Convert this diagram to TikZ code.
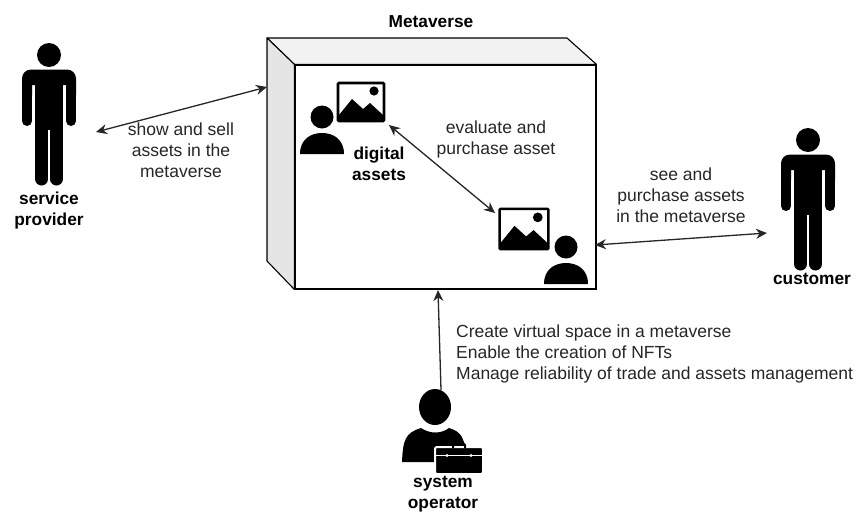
\documentclass[tikz,border=0pt]{standalone}
\usepackage{fontspec}
\setmainfont{Liberation Sans}
\usetikzlibrary{arrows.meta}
\tikzset{
plain/.style={align=center, inner sep=0pt, text=black!85, font=\fontsize{17.5}{21}\selectfont},
heavy/.style={align=center, inner sep=0pt, font=\fontsize{17.3}{21}\selectfont\bfseries},
link/.style={draw=black!85, line width=1.3pt, {Stealth[length=11pt,width=10pt]}-{Stealth[length=11pt,width=10pt]}},
stander/.pic={
\fill (0,0) circle (12pt);
\fill (-27,40) [rounded corners=9pt] -- (-27,14.5) -- (27,14.5) [sharp corners] -- (27,40) -- (17,40) -- (17,30) -- (-17,30) -- (-17,40) -- cycle;
\fill (-14,14.5) rectangle (14,75);
\draw [line width=10pt, line cap=round] (-22,35) -- (-22,66);
\draw [line width=10pt, line cap=round] (22,35) -- (22,66);
\draw [line width=13pt, line cap=round] (-7.4,60) -- (-7.4,124);
\draw [line width=13pt, line cap=round] (7.4,60) -- (7.4,124);
},
bust/.pic={
\fill (0,0) circle (11.5pt);
\fill (-22,37) .. controls (-22,22) and (-11,16) .. (0,16) .. controls (11,16) and (22,22) .. (22,37) -- cycle;
},
picture/.pic={
\draw [line width=2.6pt, rounded corners=1pt] (-23,-19) rectangle (23,19);
\fill (-22,13) -- (-9,-3) -- (2,7) -- (9,1) -- (22,13) -- (22,18) -- (-22,18) -- cycle;
\fill (13,-11) circle (4.6pt);
},
}
\begin{document}
\begin{tikzpicture}[x=1pt, y=-1pt]
\useasboundingbox (0,0) rectangle (858,512);
\fill [white] (0,0) rectangle (858,512);
\coordinate (backnw) at (267,38);
\coordinate (backne) at (567,38);
\coordinate (backsw) at (267,261);
\node (front) at (445.5,177) [draw, line width=1.1pt, fill=white, minimum width=301pt, minimum height=224pt, inner sep=0pt] {};
\draw [line width=1.1pt, fill=black!5, line join=round] (backnw) -- (backne) -- (front.north east) -- (front.north west) -- cycle;
\draw [line width=1.1pt, fill=black!10, line join=round] (backnw) -- (front.north west) -- (front.south west) -- (backsw) -- cycle;
\node (title) at (431,22) [heavy] {Metaverse};
\pic at (49,55) {stander};
\pic at (808,140) {stander};
\pic at (322,117) {bust};
\pic at (566,247) {bust};
\pic at (361,102) {picture};
\pic [scale=1.06] at (524,229) {picture};
% operator with toolcase
\fill (435,407) ellipse (16pt and 18pt);
\fill (402,462) .. controls (403,440) and (405,433) .. (421,428) .. controls (430,434) and (441,434) .. (449,428) .. controls (462,432) and (465,438) .. (467,462) -- cycle;
\fill [rounded corners=2pt, draw=white, line width=2pt] (435,447) rectangle (483,474);
\draw [line width=2pt, rounded corners=1pt] (453,448) -- (453,444) -- (465,444) -- (465,448);
\draw [white, line width=1.2pt] (436,455.5) -- (482,455.5);
\fill [white] (447,455.5) circle (1.6pt) (471,455.5) circle (1.6pt);
\coordinate (providerport) at (96,132);
\coordinate (sideport) at (267,87);
\coordinate (sellerport) at (389,125);
\coordinate (buyerport) at (495,213);
\coordinate (frontport) at (595,245);
\coordinate (customerport) at (767,233);
\coordinate (bottomport) at (438,290);
\coordinate (operatorport) at (441,390);
\draw [link] (providerport) -- (sideport);
\draw [link] (sellerport) -- (buyerport);
\draw [link] (frontport) -- (customerport);
\draw [link, -{Stealth[length=11pt,width=10pt]}] (operatorport) -- (bottomport);
\node (selllabel) at (181,150.5) [plain] {show and sell \\ assets in the \\ metaverse};
\node (providerlabel) at (49,211) [heavy] {service \\ provider};
\node (assetlabel) at (379,163.5) [heavy] {digital \\ assets};
\node (evallabel) at (496,139) [plain] {evaluate and \\ purchase asset};
\node (seelabel) at (681,195.5) [plain] {see and \\ purchase assets \\ in the metaverse};
\node (customerlabel) at (812,279) [heavy] {customer};
\node (operatorlabel) at (443,494.5) [heavy] {system \\ operator};
\node (dutylabel) at (456,354) [plain, anchor=west, align=left] {Create virtual space in a metaverse \\ Enable the creation of NFTs \\ Manage reliability of trade and assets management};
\end{tikzpicture}
\end{document}
